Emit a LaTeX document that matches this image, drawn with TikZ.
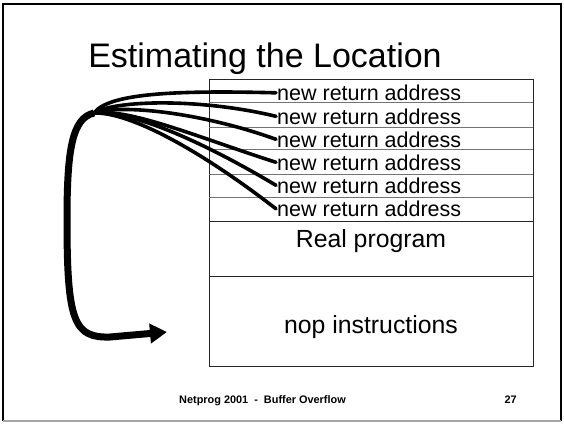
\documentclass[tikz,border=0pt]{standalone}
\usepackage{fontspec}
\setmainfont{Liberation Sans}
\usetikzlibrary{arrows.meta}
\begin{document}
\begin{tikzpicture}[x=1pt,y=-1pt,
  addr/.style={inner sep=0pt,anchor=base west,font=\fontsize{21.5}{22}\selectfont},
  big/.style={inner sep=0pt,anchor=base,font=\fontsize{24.8}{26}\selectfont},
  thin curve/.style={line width=3.6pt,line cap=round},
  rowline/.style={draw=black!55,line width=0.8pt},
  foot/.style={inner sep=0pt,anchor=base west,font=\fontsize{10.9}{12}\selectfont\bfseries}]
\useasboundingbox (0,0) rectangle (564,424);
% slide frame
\draw[line width=1.6pt,black] (3,421) -- (3,4) -- (561,4) -- (561,421);
\draw[line width=1.6pt,black!35] (3,421) -- (561,421);
% title
\node[inner sep=0pt,anchor=base,font=\fontsize{34}{36}\selectfont] (title) at (265,67) {Estimating the Location};
% stack box
\draw[line width=0.9pt,black!85] (209,79) rectangle (533,366);
\foreach \yy in {102,127,149,174,197} {\draw[rowline] (209,\yy) -- (533,\yy);}
\draw[line width=0.9pt,black!85] (209,221) -- (533,221);
\draw[line width=0.9pt,black!85] (209,276) -- (533,276);
% texts
\node[addr] (r1) at (277,100.5) {new return address};
\node[addr] (r2) at (277,124) {new return address};
\node[addr] (r3) at (277,147) {new return address};
\node[addr] (r4) at (277,170) {new return address};
\node[addr] (r5) at (277,193) {new return address};
\node[addr] (r6) at (277,216.5) {new return address};
\node[big] (real) at (371,247.3) {Real program};
\node[big] (nop) at (371,333) {nop instructions};
% footer
\node[foot] (foot) at (179,403) {Netprog 2001\ \ -\ \ Buffer Overflow};
\node[inner sep=0pt,anchor=base east,font=\fontsize{10.9}{12}\selectfont\bfseries] (page) at (517,403) {27};
% hub and curves
\coordinate (H) at (94,113);
\coordinate (T) at (167,332);
\draw[thin curve] (H) .. controls (108,94) and (170,90) .. ([xshift=-1pt]r1.west);
\draw[thin curve] (H) .. controls (115,100) and (200,98) .. ([xshift=-1pt]r2.west);
\draw[thin curve] (H) .. controls (120,104) and (200,112) .. ([xshift=-1pt]r3.west);
\draw[thin curve] (H) .. controls (130,108) and (200,138) .. ([xshift=-1pt]r4.west);
\draw[thin curve] (H) .. controls (130,110) and (200,140) .. ([xshift=-1pt]r5.west);
\draw[thin curve] (H) .. controls (130,112) and (200,150) .. ([xshift=-1pt]r6.west);
% big arrow
\draw[line width=7pt,-{Triangle[length=17pt,width=19pt]}]
  (H) .. controls (72,118) and (67,150) .. (67,220)
  .. controls (67,322) and (74,338) .. (110,337) -- (T);
\end{tikzpicture}
\end{document}
